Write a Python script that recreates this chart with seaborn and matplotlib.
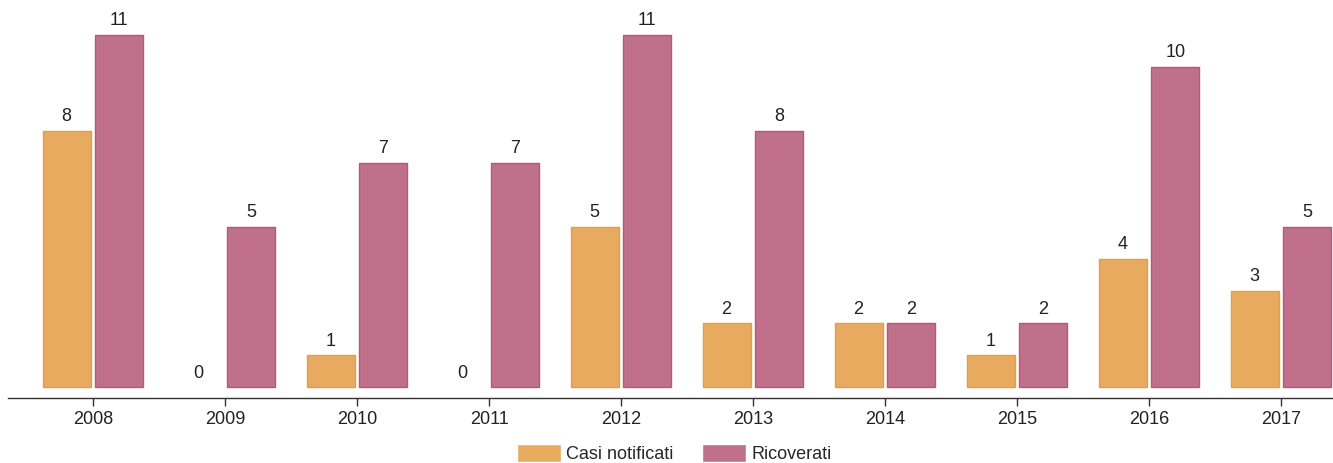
import pandas as pd
import matplotlib
matplotlib.use("Agg")
import matplotlib.pyplot as plt
import seaborn as sns

# Dati
anni = ["2008", "2009", "2010", "2011", "2012", "2013", "2014", "2015", "2016", "2017"]
casi_notificati = [8, 0, 1, 0, 5, 2, 2, 1, 4, 3]
ricoverati = [11, 5, 7, 7, 11, 8, 2, 2, 10, 5]
serie = ["Casi notificati", "Ricoverati"]
colori = ["#E8AA5E", "#C0708A"]
bordi = ["#E39E4A", "#B5587A"]

df = pd.DataFrame({
    "anno": anni * 2,
    "valore": casi_notificati + ricoverati,
    "serie": [serie[0]] * len(anni) + [serie[1]] * len(anni),
})

sns.set_style("white")
plt.rcParams["font.family"] = ["Liberation Sans", "DejaVu Sans"]

fig = plt.figure(figsize=(13.33, 4.63), dpi=100)
ax = fig.add_axes([8 / 1333, 1 - 398 / 463, 1 - 8 / 1333, 398 / 463])

sns.barplot(data=df, x="anno", y="valore", hue="serie", palette=colori,
            gap=0.09, width=0.8, ax=ax, saturation=1)

# bordi e etichette
for i, cont in enumerate(ax.containers):
    for p in cont:
        p.set_edgecolor(bordi[i])
        p.set_linewidth(1 if p.get_height() > 0 else 0)
    ax.bar_label(cont, padding=4, fontsize=13, color="#222222")

ax.set_xlim(-0.644, 9.394)
ax.set_ylim(-0.34, 12.09)
ax.set_xlabel("")
ax.set_ylabel("")
ax.set_yticks([])
for s in ["top", "right", "left"]:
    ax.spines[s].set_visible(False)
ax.spines["bottom"].set_color("#333333")
ax.spines["bottom"].set_linewidth(1)
ax.tick_params(axis="x", bottom=True, length=6, width=1, color="#333333",
               labelsize=13, labelcolor="#222222", pad=3)

sns.move_legend(ax, "lower center", bbox_to_anchor=(0.503, -0.205), ncol=2,
                frameon=False, title=None, fontsize=13, handlelength=2.4,
                handleheight=1.2, columnspacing=1.6, handletextpad=0.3)

fig.savefig("out.png", dpi=100)
